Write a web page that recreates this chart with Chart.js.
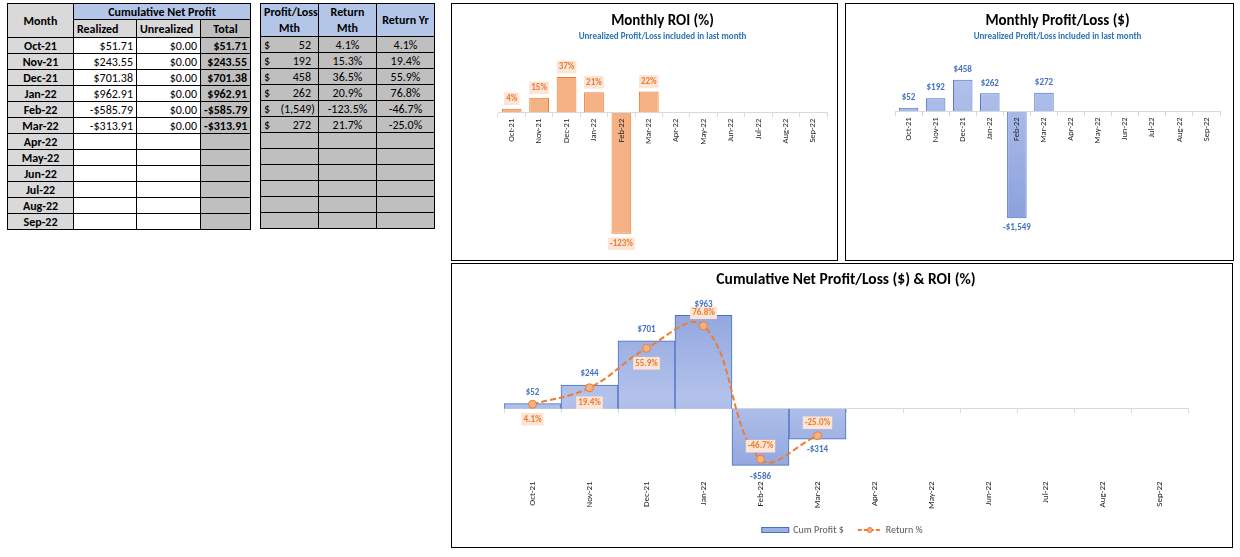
<!DOCTYPE html>
<html>
<head>
<meta charset="utf-8">
<script src="https://cdn.jsdelivr.net/npm/chart.js@4.4.1/dist/chart.umd.min.js"></script>
<style>
  body { margin: 0; background: #fff; width: 1240px; height: 557px; position: relative; overflow: hidden;
         font-family: Calibri, Carlito, Lato, sans-serif; }
  table.grid { position: absolute; top: 3px; border-collapse: collapse; table-layout: fixed; font-size: 12px; color: #000; }
  table.grid td { border: 1px solid #000; padding: 0 3px; height: 15px; line-height: 14px; white-space: nowrap; overflow: hidden; }
  table.grid tr.h1 td { height: 15px; }
  table.grid tr.h2 td { height: 17px; }
  .b { font-weight: bold; }
  .c { text-align: center; }
  .r { text-align: right; }
  .blue { background: #B4C6E7; }
  .lg { background: #D9D9D9; }
  .dg { background: #BFBFBF; }
  .cur { float: left; }
  .box { position: absolute; border: 1px solid #000; box-sizing: border-box; background: #fff; }
  .box canvas { display: block; }
</style>
</head>
<body>
<table class="grid" id="tblLeft" style="left:7px; width:243px;">
  <colgroup><col style="width:66px"><col style="width:63px"><col style="width:64px"><col style="width:50px"></colgroup>
</table>
<table class="grid" id="tblRight" style="left:260px; width:174px;">
  <colgroup><col style="width:58px"><col style="width:58px"><col style="width:58px"></colgroup>
</table>

<div class="box" style="left:451px; top:3px; width:387px; height:258px;"><canvas id="roiChart" width="385" height="256"></canvas></div>
<div class="box" style="left:845px; top:3px; width:389px; height:258px;"><canvas id="plChart" width="387" height="256"></canvas></div>
<div class="box" style="left:451px; top:263px; width:782px; height:285px;"><canvas id="cumChart" width="780" height="283"></canvas></div>

<script>
const FONT = "Calibri, Carlito, Lato, sans-serif";
Chart.defaults.font.family = FONT;

// data read from the sheet
const months = ["Oct-21", "Nov-21", "Dec-21", "Jan-22", "Feb-22", "Mar-22",
                "Apr-22", "May-22", "Jun-22", "Jul-22", "Aug-22", "Sep-22"];
const realized = [51.71, 243.55, 701.38, 962.91, -585.79, -313.91];
const unrealized = [0, 0, 0, 0, 0, 0];
const cumTotal = [51.71, 243.55, 701.38, 962.91, -585.79, -313.91];
const profitLossMth = [52, 192, 458, 262, -1549, 272];
const returnMth = [4.1, 15.3, 36.5, 20.9, -123.5, 21.7];
const returnYr = [4.1, 19.4, 55.9, 76.8, -46.7, -25.0];

const money2 = v => (v < 0 ? "-$" : "$") + Math.abs(v).toFixed(2);
const money0 = v => (v < 0 ? "-$" : "$") + Math.abs(Math.round(v)).toLocaleString("en-US");
const pct1 = v => v.toFixed(1) + "%";

// ---- tables ----
const left = document.getElementById("tblLeft");
let html = '<tr class="h1"><td class="lg b c" rowspan="2">Month</td><td class="blue b c" colspan="3">Cumulative Net Profit</td></tr>' +
           '<tr class="h2"><td class="lg b">Realized</td><td class="lg b">Unrealized</td><td class="dg b c">Total</td></tr>';
months.forEach((m, i) => {
  const has = i < realized.length;
  html += '<tr><td class="lg b c">' + m + '</td>' +
          '<td class="r">' + (has ? money2(realized[i]) : "") + '</td>' +
          '<td class="r">' + (has ? money2(unrealized[i]) : "") + '</td>' +
          '<td class="dg b r">' + (has ? money2(cumTotal[i]) : "") + '</td></tr>';
});
left.insertAdjacentHTML("beforeend", html);

const right = document.getElementById("tblRight");
html = '<tr class="h1"><td class="blue b c" rowspan="2" style="line-height:16px">Profit/Loss<br>Mth</td>' +
       '<td class="blue b c" rowspan="2" style="line-height:16px">Return<br>Mth</td>' +
       '<td class="blue b c" rowspan="2">Return Yr</td></tr><tr class="h2"></tr>';
months.forEach((m, i) => {
  let pl = "";
  if (i < profitLossMth.length) {
    const v = profitLossMth[i];
    pl = '<span class="cur">$</span>' + (v < 0 ? "(" + Math.abs(v).toLocaleString("en-US") + ")"
                                             : v + '<span style="display:inline-block;width:4px"></span>');
  }
  html += '<tr><td class="dg r">' + pl + '</td>' +
          '<td class="dg c">' + (i < returnMth.length ? pct1(returnMth[i]) : "") + '</td>' +
          '<td class="dg c">' + (i < returnYr.length ? pct1(returnYr[i]) : "") + '</td></tr>';
});
right.insertAdjacentHTML("beforeend", html);

// ---- value labels drawn next to bars / points ----
const valueLabels = {
  id: "valueLabels",
  afterDatasetsDraw(chart) {
    const ctx = chart.ctx;
    chart.data.datasets.forEach((ds, di) => {
      const lab = ds.valueLabel;
      if (!lab) return;
      chart.getDatasetMeta(di).data.forEach((el, i) => {
        const v = ds.data[i];
        if (v === null || v === undefined) return;
        const text = lab.format(v);
        const below = lab.below ? lab.below(v, i) : v < 0;
        const y = below ? el.y + (lab.gapBelow || lab.gap) : el.y - lab.gap;
        ctx.save();
        ctx.font = "bold " + lab.size + "px " + FONT;
        ctx.textAlign = "center";
        ctx.textBaseline = "middle";
        if (lab.bg) {
          const w = ctx.measureText(text).width;
          ctx.fillStyle = lab.bg;
          ctx.fillRect(el.x - w / 2 - 2, y - lab.size * 0.7, w + 4, lab.size * 1.4);
        }
        ctx.fillStyle = lab.color;
        ctx.fillText(text, el.x, y);
        ctx.restore();
      });
    });
  }
};

function blueFill(stops) {
  return context => {
    const chart = context.chart;
    const area = chart.chartArea;
    if (!area) return "#9DB0E3";
    const g = chart.ctx.createLinearGradient(0, area.top, 0, area.bottom);
    stops.forEach(s => g.addColorStop(s[0], s[1]));
    return g;
  };
}

function topChartOptions(title, yMin, yMax, padLeft, padRight) {
  return {
    responsive: false,
    animation: false,
    layout: { padding: { left: padLeft, right: padRight, top: 0, bottom: 10 } },
    plugins: {
      legend: { display: false },
      tooltip: { enabled: false },
      title: { display: true, text: title, color: "#000", font: { size: 15, weight: "bold" }, padding: { top: 8, bottom: 0 } },
      subtitle: { display: true, text: "Unrealized Profit/Loss included in last month", color: "#2E75B6",
                  font: { size: 9, weight: "bold" }, padding: { top: 1, bottom: 22 } }
    },
    scales: {
      y: { display: false, min: yMin, max: yMax },
      x: {
        position: { y: 0 },
        grid: { drawOnChartArea: false, tickLength: 4, color: "#D9D9D9", z: 1 },
        border: { color: "#D9D9D9", z: 1 },
        ticks: { color: "#262626", font: { size: 8.5 }, minRotation: 90, maxRotation: 90, padding: 2, autoSkip: false, z: 1 }
      }
    }
  };
}

// ---- Monthly ROI (%) ----
new Chart(document.getElementById("roiChart"), {
  type: "bar",
  data: {
    labels: months,
    datasets: [{
      label: "Return Mth",
      data: returnMth,
      backgroundColor: "#F4B183",
      borderColor: "#ED7D31",
      borderWidth: 1,
      barPercentage: 0.72,
      categoryPercentage: 1,
      valueLabel: { format: v => Math.round(v) + "%", color: "#ED7D31", bg: "#FCE4D6", size: 9, gap: 10 }
    }]
  },
  options: topChartOptions("Monthly ROI (%)", -140, 50, 46, 10),
  plugins: [valueLabels]
});

// ---- Monthly Profit/Loss ($) ----
new Chart(document.getElementById("plChart"), {
  type: "bar",
  data: {
    labels: months,
    datasets: [{
      label: "Profit/Loss Mth",
      data: profitLossMth,
      backgroundColor: blueFill([[0, "#B5C5ED"], [1, "#8399D9"]]),
      borderColor: "#4A6FC4",
      borderWidth: 1,
      barPercentage: 0.72,
      categoryPercentage: 1,
      valueLabel: { format: money0, color: "#4472C4", size: 9, gap: 10 }
    }]
  },
  options: topChartOptions("Monthly Profit/Loss ($)", -2010, 690, 49, 13),
  plugins: [valueLabels]
});

// ---- Cumulative Net Profit/Loss ($) & ROI (%) ----
const cumLegend = {
  id: "cumLegend",
  afterDraw(chart) {
    const ctx = chart.ctx;
    const y = chart.height - 17;
    const t1 = "Cum Profit $", t2 = "Return %";
    ctx.save();
    ctx.font = "10px " + FONT;
    const w1 = ctx.measureText(t1).width, w2 = ctx.measureText(t2).width;
    const total = 28 + 4 + w1 + 14 + 24 + 4 + w2;
    let x = chart.width / 2 - total / 2;
    ctx.fillStyle = "#9DB0E3";
    ctx.fillRect(x, y - 2.5, 28, 5);
    ctx.strokeStyle = "#4472C4";
    ctx.lineWidth = 1;
    ctx.strokeRect(x + 0.5, y - 2.5, 27, 5);
    x += 32;
    ctx.fillStyle = "#595959";
    ctx.textBaseline = "middle";
    ctx.fillText(t1, x, y);
    x += w1 + 14;
    ctx.strokeStyle = "#ED7D31";
    ctx.lineWidth = 2;
    ctx.setLineDash([4, 2]);
    ctx.beginPath();
    ctx.moveTo(x, y);
    ctx.lineTo(x + 24, y);
    ctx.stroke();
    ctx.setLineDash([]);
    ctx.fillStyle = "#F4B183";
    ctx.beginPath();
    ctx.arc(x + 12, y, 2.5, 0, Math.PI * 2);
    ctx.fill();
    ctx.lineWidth = 1;
    ctx.stroke();
    x += 28;
    ctx.fillStyle = "#595959";
    ctx.fillText(t2, x, y);
    ctx.restore();
  }
};

new Chart(document.getElementById("cumChart"), {
  type: "bar",
  data: {
    labels: months,
    datasets: [
      {
        type: "line",
        label: "Return %",
        data: returnYr,
        yAxisID: "y1",
        order: 0,
        borderColor: "#ED7D31",
        borderWidth: 2,
        borderDash: [6, 3],
        tension: 0.4,
        pointRadius: 4,
        pointBackgroundColor: "#F4B183",
        pointBorderColor: "#ED7D31",
        pointBorderWidth: 1,
        valueLabel: { format: v => v.toFixed(1) + "%", color: "#ED7D31", bg: "#FCE4D6", size: 9, gap: 13, gapBelow: 15,
                      below: (v, i) => i < 3 }
      },
      {
        type: "bar",
        label: "Cum Profit $",
        data: cumTotal,
        yAxisID: "y",
        order: 1,
        backgroundColor: blueFill([[0, "#8EA3DD"], [0.55, "#B3C2EB"], [1, "#8EA3DD"]]),
        borderColor: "#4472C4",
        borderWidth: 1,
        barPercentage: 1,
        categoryPercentage: 1,
        valueLabel: { format: money0, color: "#4472C4", size: 9, gap: 11 }
      }
    ]
  },
  options: {
    responsive: false,
    animation: false,
    layout: { padding: { left: 52, right: 44, top: 0, bottom: 35 } },
    plugins: {
      legend: { display: false },
      tooltip: { enabled: false },
      title: { display: true, text: "Cumulative Net Profit/Loss ($) & ROI (%)", color: "#000",
               font: { size: 15.5, weight: "bold" }, padding: { top: 7, bottom: 10 } }
    },
    scales: {
      y: { display: false, min: -720, max: 1126 },
      y1: { display: false, min: -64.5, max: 101 },
      x: {
        grid: { display: false, drawTicks: false },
        border: { display: false },
        ticks: { color: "#262626", font: { size: 9 }, minRotation: 90, maxRotation: 90, padding: 3, autoSkip: false }
      },
      x0: {
        type: "category",
        position: { y: 0 },
        offset: true,
        grid: { offset: true, drawOnChartArea: false, tickLength: 4, color: "#D9D9D9" },
        border: { color: "#D9D9D9" },
        ticks: { display: false }
      }
    }
  },
  plugins: [valueLabels, cumLegend]
});
</script>
</body>
</html>
